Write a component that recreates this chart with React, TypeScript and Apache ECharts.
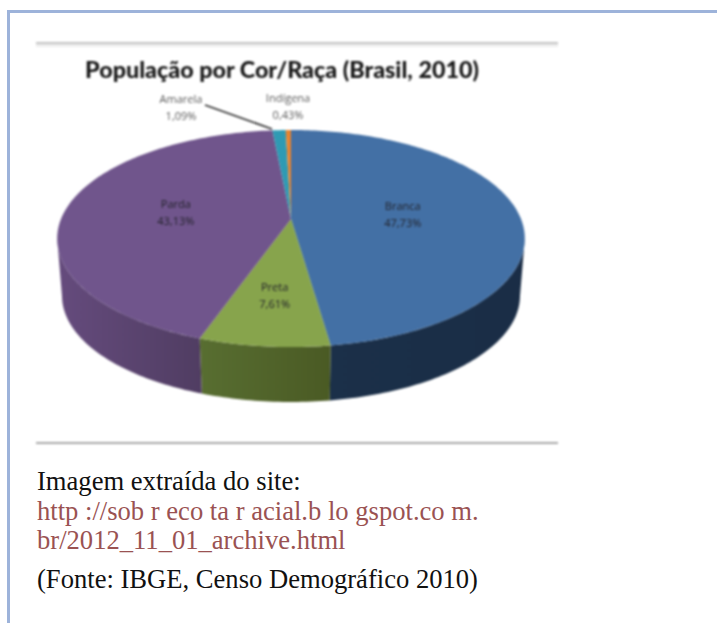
import React, { useEffect, useRef } from "react";
import * as echarts from "echarts";

const W = 717;
const H = 623;

const categories = ["Branca", "Preta", "Parda", "Amarela", "Indígena"];
const shares = [47.73, 7.61, 43.13, 1.09, 0.43];
const shareLabels = ["47,73%", "7,61%", "43,13%", "1,09%", "0,43%"];
const topColors = ["#4370a5", "#87a44c", "#70558c", "#2f9ab3", "#e8842f"];
const wallStops = [
  ["#1b3049", "#1a2d46"],
  ["#586e31", "#4a5a24"],
  ["#654b7d", "#503d62"],
  ["#1f6a7c", "#1f6a7c"],
  ["#a85d20", "#a85d20"],
];
const chartTitle = "População por Cor/Raça (Brasil, 2010)";
const captionLines = [
  { text: "Imagem extraída do site:", color: "#111111", y: 481 },
  { text: "http ://sob r eco ta r acial.b lo gspot.co m.", color: "#9a5252", y: 511 },
  { text: "br/2012_11_01_archive.html", color: "#9a5252", y: 540 },
  { text: "(Fonte: IBGE, Censo Demográfico 2010)", color: "#111111", y: 579 },
];

// projection of the tilted disc
const CX = 291;
const CY = 219;
const A = 230;
const B = 105;
const K = 0.18;
const DEPTH = 58;
const BOTTOM_SCALE = 0.98;
const labelRadius = [0.49, 0.65, 0.51];
const outsideLabels: Record<number, [number, number]> = { 3: [181, 108], 4: [288, 107] };
// the side wall is only visible between the two silhouette angles
const WALL_FROM = Math.acos(-K);
const WALL_TO = Math.PI * 2 - WALL_FROM;

const total = shares.reduce((a, b) => a + b, 0);
const sliceStart = (i: number) =>
  (shares.slice(0, i).reduce((a, b) => a + b, 0) / total) * Math.PI * 2;

const project = (theta: number, f = 1, dy = 0) => {
  const u = Math.sin(theta) * f;
  const v = -Math.cos(theta) * f;
  const w = 1 - K * v;
  return [CX + (A * u) / w, CY + dy + (B * v) / w];
};

const arcPoints = (t0: number, t1: number, f = 1, dy = 0) => {
  const n = Math.max(2, Math.ceil(((t1 - t0) / Math.PI) * 180));
  const pts: number[][] = [];
  for (let i = 0; i <= n; i++) pts.push(project(t0 + ((t1 - t0) * i) / n, f, dy));
  return pts;
};

const renderWall = (params: any, api: any) => {
  const i = params.dataIndex;
  const start = sliceStart(i);
  const t0 = Math.max(start, WALL_FROM);
  const t1 = Math.min(start + (api.value(0) / total) * Math.PI * 2, WALL_TO);
  if (t1 <= t0) return null;
  const upper = arcPoints(t0, t1);
  const lower = arcPoints(t0, t1, BOTTOM_SCALE, DEPTH).reverse();
  return {
    type: "polygon",
    shape: { points: upper.concat(lower) },
    style: {
      fill: {
        type: "linear",
        x: 0,
        y: 0,
        x2: 1,
        y2: 0,
        colorStops: [
          { offset: 0, color: wallStops[i][0] },
          { offset: 1, color: wallStops[i][1] },
        ],
      },
    },
  };
};

const renderTop = (params: any, api: any) => {
  const i = params.dataIndex;
  const t0 = sliceStart(i);
  const t1 = t0 + (api.value(0) / total) * Math.PI * 2;
  const points = [[CX, CY]].concat(arcPoints(t0, t1));
  const mid = (t0 + t1) / 2;
  const pos = outsideLabels[i] ?? project(mid, labelRadius[i]);
  return {
    type: "group",
    children: [
      { type: "polygon", shape: { points }, style: { fill: topColors[i] } },
      {
        type: "text",
        x: pos[0],
        y: pos[1] - 1,
        z2: 10,
        style: {
          text: `${categories[i]}\n${shareLabels[i]}`,
          fill: i > 2 ? "#5a5a5a" : "#22222a",
          font: "11px 'Open Sans'",
          lineHeight: 17,
          align: "center",
          verticalAlign: "middle",
        },
      },
    ],
  };
};

export default function App() {
  const frameRef = useRef<HTMLDivElement>(null);
  const pieRef = useRef<HTMLDivElement>(null);

  useEffect(() => {
    const frame = echarts.init(frameRef.current!, undefined, { renderer: "svg" });
    const pie = echarts.init(pieRef.current!, undefined, { renderer: "svg" });

    frame.setOption({
      animation: false,
      backgroundColor: "#ffffff",
      graphic: [
        { type: "rect", shape: { x: 7, y: 10, width: 710, height: 3 }, style: { fill: "#9db3da" } },
        { type: "rect", shape: { x: 7, y: 10, width: 3, height: 613 }, style: { fill: "#9db3da" } },
        ...captionLines.map((c) => ({
          type: "text",
          x: 37,
          y: c.y,
          style: {
            text: c.text,
            fill: c.color,
            font: "26.6px 'Liberation Serif'",
            verticalAlign: "middle",
          },
        })),
      ],
    });

    pie.setOption({
      animation: false,
      title: {
        text: chartTitle,
        left: 277,
        top: 52,
        textAlign: "center",
        textStyle: { fontFamily: "Lato", fontWeight: 900, fontSize: 23.3, color: "#181818" },
      },
      graphic: [
        { type: "rect", shape: { x: 36, y: 42, width: 522, height: 2 }, style: { fill: "#c4c4c4" } },
        { type: "rect", shape: { x: 36, y: 44, width: 522, height: 3 }, style: { fill: "#eeeeee" } },
        { type: "rect", shape: { x: 36, y: 442, width: 522, height: 2 }, style: { fill: "#a8a8a8" } },
        { type: "line", z: 20, shape: { x1: 205, y1: 105, x2: 272, y2: 129 }, style: { stroke: "#333333", lineWidth: 1.8 } },
      ],
      series: [
        { type: "custom", coordinateSystem: "none", renderItem: renderWall, data: shares, z: 2, silent: true },
        { type: "custom", coordinateSystem: "none", renderItem: renderTop, data: shares, z: 3, silent: true },
      ],
    });

    return () => {
      frame.dispose();
      pie.dispose();
    };
  }, []);

  return (
    <div style={{ position: "fixed", left: 0, top: 0, width: W, height: H, overflow: "hidden", background: "#fff" }}>
      <div ref={frameRef} style={{ position: "absolute", left: 0, top: 0, width: W, height: H }} />
      <div ref={pieRef} style={{ position: "absolute", left: 0, top: 0, width: W, height: H, filter: "blur(0.9px)" }} />
    </div>
  );
}
